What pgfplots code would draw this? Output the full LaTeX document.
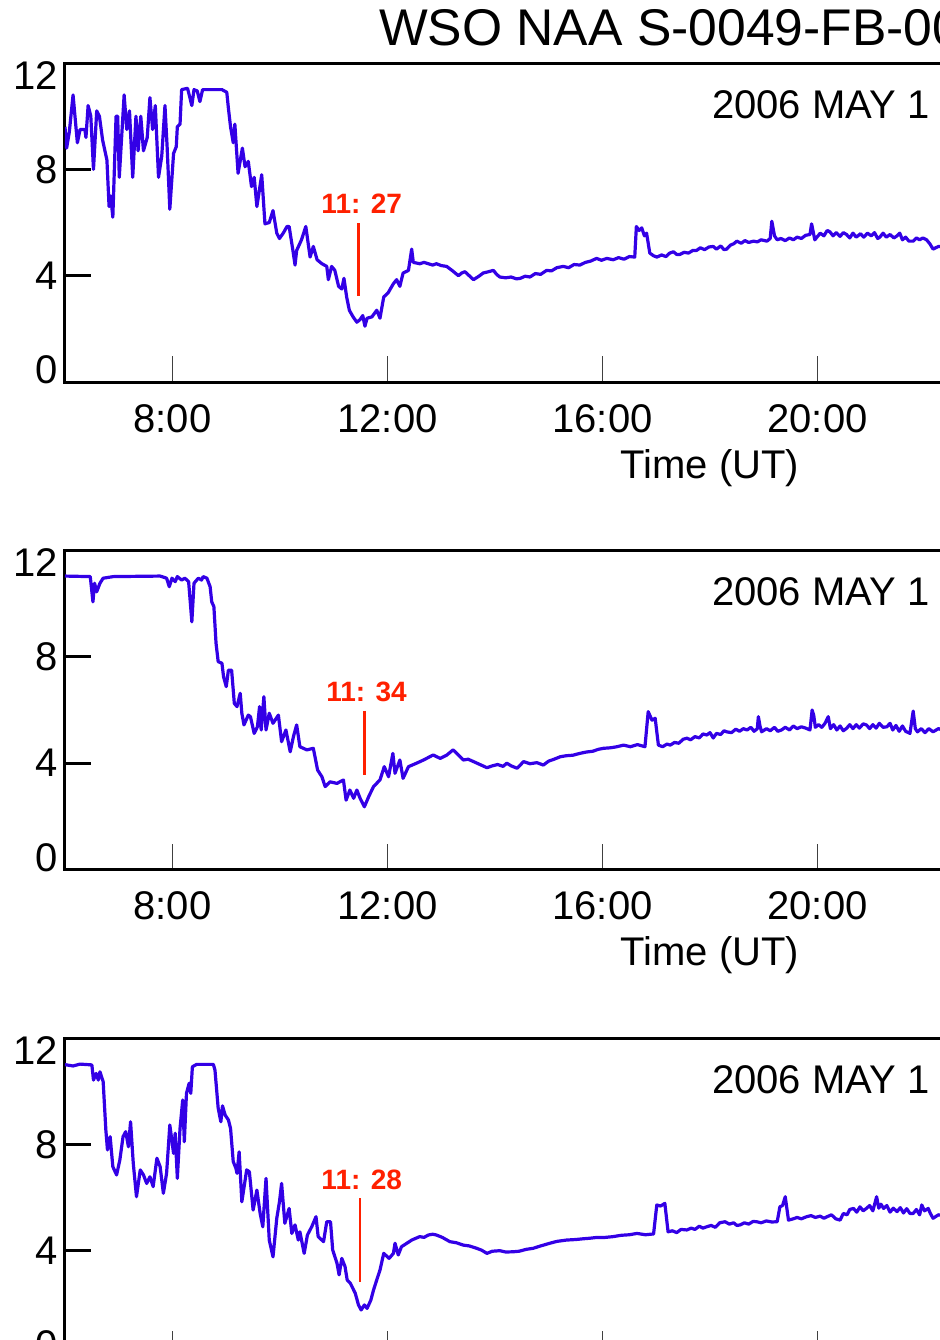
\documentclass[border=0pt]{standalone}
\usepackage{fontspec}
\setmainfont{Liberation Sans}
\usepackage{pgfplots}
\usepackage{pgfplotstable}
\pgfplotsset{compat=1.18}

\definecolor{traceblue}{RGB}{51,0,230}
\definecolor{flagred}{RGB}{255,32,0}

% hour (UT) / signal
\pgfplotstableread{
t v
6.00 9.6
6.03 8.8
6.08 9.4
6.15 10.8
6.23 9.0
6.28 9.5
6.37 9.5
6.39 9.2
6.43 10.4
6.48 10.0
6.53 8.0
6.59 10.2
6.64 10.0
6.70 9.1
6.78 8.35
6.82 6.6
6.85 7.0
6.89 6.2
6.95 10.0
6.98 10.0
7.01 7.7
7.10 10.8
7.15 9.5
7.20 10.2
7.26 7.7
7.32 10.0
7.36 8.7
7.41 10.0
7.46 8.7
7.53 9.2
7.58 10.7
7.63 9.5
7.68 10.4
7.74 7.7
7.80 8.5
7.86 10.4
7.90 8.85
7.95 6.5
8.02 8.6
8.07 8.85
8.09 9.6
8.14 9.7
8.17 11.0
8.28 11.05
8.36 10.4
8.40 11.0
8.46 10.95
8.51 10.55
8.56 11.0
8.92 11.0
9.01 10.9
9.04 10.3
9.08 9.6
9.13 9.0
9.16 9.7
9.22 7.85
9.30 8.8
9.35 8.1
9.41 8.3
9.47 7.35
9.52 7.7
9.57 6.6
9.66 7.8
9.72 5.95
9.80 6.0
9.87 6.45
9.94 5.6
9.99 5.4
10.06 5.6
10.13 5.85
10.17 5.85
10.24 4.95
10.28 4.4
10.31 4.95
10.40 5.35
10.48 5.85
10.56 4.7
10.62 5.1
10.69 4.6
10.78 4.45
10.87 4.35
10.90 3.85
10.96 4.35
11.02 4.2
11.09 3.6
11.15 3.5
11.19 3.9
11.24 3.2
11.29 2.7
11.36 2.45
11.43 2.25
11.49 2.35
11.54 2.5
11.58 2.1
11.62 2.4
11.71 2.45
11.80 2.7
11.86 2.4
11.93 3.2
12.01 3.35
12.11 3.7
12.17 3.85
12.23 3.6
12.29 4.1
12.39 4.2
12.45 5.0
12.48 4.5
12.60 4.45
12.68 4.5
12.76 4.45
12.84 4.4
12.91 4.45
13.00 4.38
13.10 4.35
13.20 4.2
13.32 4.0
13.38 4.1
13.44 4.15
13.52 4.0
13.60 3.85
13.70 3.98
13.78 4.1
13.88 4.15
13.97 4.2
14.03 4.05
14.09 3.95
14.20 3.92
14.30 3.95
14.40 3.88
14.47 3.9
14.56 3.98
14.65 3.95
14.75 4.08
14.85 4.05
14.96 4.2
15.05 4.18
15.15 4.3
15.27 4.35
15.37 4.3
15.47 4.42
15.58 4.4
15.68 4.5
15.78 4.55
15.89 4.65
15.98 4.58
16.08 4.65
16.20 4.6
16.30 4.68
16.40 4.62
16.50 4.72
16.60 4.7
16.63 5.85
16.68 5.7
16.73 5.8
16.78 5.5
16.82 5.6
16.88 4.85
16.95 4.75
17.01 4.7
17.10 4.78
17.18 4.72
17.25 4.85
17.32 4.9
17.38 4.8
17.44 4.8
17.52 4.88
17.60 4.85
17.68 4.95
17.75 4.95
17.82 5.05
17.90 4.98
17.98 5.08
18.06 5.1
18.12 5.0
18.20 5.12
18.26 4.98
18.31 5.0
18.38 5.15
18.44 5.2
18.50 5.3
18.58 5.22
18.65 5.32
18.72 5.25
18.81 5.3
18.88 5.27
18.95 5.35
19.06 5.3
19.12 5.4
19.15 6.05
19.20 5.5
19.25 5.35
19.32 5.4
19.40 5.32
19.48 5.42
19.55 5.35
19.62 5.45
19.70 5.4
19.78 5.52
19.86 5.55
19.89 5.95
19.95 5.35
20.05 5.6
20.12 5.5
20.18 5.7
20.23 5.65
20.29 5.5
20.35 5.62
20.42 5.48
20.48 5.62
20.54 5.55
20.60 5.42
20.66 5.6
20.72 5.45
20.80 5.58
20.86 5.45
20.93 5.6
21.00 5.5
21.06 5.62
21.12 5.4
21.16 5.45
21.22 5.6
21.28 5.45
21.35 5.55
21.42 5.42
21.48 5.5
21.53 5.6
21.58 5.35
21.64 5.45
21.70 5.3
21.78 5.3
21.84 5.42
21.90 5.35
21.96 5.42
22.03 5.35
22.09 5.2
22.15 5.0
22.25 5.1
22.40 5.1
}\dayA

\pgfplotstableread{
t v
6.00 11.04
6.47 11.02
6.52 10.07
6.55 10.77
6.59 10.45
6.65 10.77
6.71 10.96
6.90 11.02
7.77 11.04
7.89 10.96
7.94 10.64
7.99 10.96
8.05 10.83
8.09 11.02
8.17 10.89
8.23 10.96
8.30 10.83
8.36 9.32
8.40 10.77
8.48 10.96
8.54 10.89
8.57 11.02
8.64 10.96
8.70 10.64
8.73 10.07
8.77 9.89
8.81 8.51
8.85 7.82
8.92 7.76
8.95 7.25
9.00 6.88
9.04 7.5
9.10 7.5
9.15 6.25
9.20 6.13
9.26 6.63
9.29 5.88
9.33 5.44
9.41 5.81
9.45 5.75
9.52 5.12
9.58 5.37
9.62 6.13
9.65 5.25
9.70 6.5
9.74 5.25
9.80 5.88
9.87 5.5
9.97 5.81
10.03 4.81
10.11 5.25
10.19 4.43
10.25 5.0
10.31 5.44
10.37 4.62
10.50 4.5
10.62 4.56
10.70 3.74
10.78 3.49
10.84 3.12
10.93 3.3
11.06 3.24
11.18 3.37
11.23 2.61
11.30 2.99
11.37 2.68
11.43 2.99
11.49 2.68
11.57 2.36
11.65 2.74
11.74 3.12
11.86 3.37
11.94 3.87
12.02 3.49
12.10 4.37
12.14 3.62
12.23 4.12
12.29 3.43
12.39 3.87
12.54 4.0
12.67 4.12
12.85 4.31
12.98 4.18
13.10 4.3
13.22 4.5
13.30 4.35
13.41 4.12
13.50 4.15
13.60 4.06
13.72 3.95
13.85 3.83
13.95 3.9
14.05 3.95
14.15 3.88
14.22 4.0
14.30 3.9
14.41 3.81
14.48 3.95
14.53 4.06
14.65 3.98
14.78 4.02
14.90 3.93
15.00 4.08
15.10 4.15
15.21 4.24
15.32 4.28
15.45 4.3
15.58 4.37
15.70 4.42
15.82 4.45
15.92 4.52
16.02 4.56
16.15 4.58
16.27 4.62
16.39 4.68
16.52 4.62
16.65 4.7
16.79 4.62
16.85 5.94
16.92 5.62
16.98 5.69
17.04 4.68
17.12 4.62
17.20 4.72
17.26 4.68
17.34 4.78
17.42 4.75
17.50 4.9
17.57 4.94
17.64 4.88
17.72 5.0
17.80 4.95
17.87 5.1
17.94 5.06
18.00 5.15
18.06 4.95
18.12 5.12
18.20 5.08
18.26 5.22
18.31 5.18
18.40 5.15
18.48 5.28
18.55 5.2
18.62 5.3
18.69 5.25
18.76 5.35
18.82 5.2
18.88 5.3
18.90 5.75
18.93 5.4
18.96 5.18
19.05 5.3
19.12 5.22
19.20 5.35
19.26 5.2
19.33 5.25
19.40 5.35
19.48 5.25
19.55 5.4
19.62 5.3
19.70 5.37
19.78 5.32
19.86 5.25
19.90 6.0
19.93 5.8
19.96 5.35
20.02 5.45
20.08 5.35
20.14 5.5
20.20 5.75
20.24 5.3
20.30 5.45
20.36 5.25
20.42 5.4
20.48 5.22
20.54 5.31
20.60 5.45
20.66 5.3
20.72 5.45
20.78 5.32
20.85 5.48
20.91 5.44
20.97 5.3
21.03 5.45
21.09 5.32
21.15 5.5
21.22 5.35
21.29 5.37
21.35 5.5
21.40 5.25
21.46 5.42
21.52 5.2
21.58 5.4
21.64 5.2
21.72 5.12
21.78 5.96
21.82 5.3
21.86 5.18
21.93 5.3
22.00 5.15
22.07 5.3
22.15 5.18
22.25 5.3
22.40 5.2
}\dayB

\pgfplotstableread{
t v
6.00 11.0
6.15 10.95
6.28 11.02
6.50 10.99
6.53 10.42
6.58 10.67
6.62 10.42
6.65 10.73
6.71 10.36
6.76 8.54
6.79 7.79
6.84 8.29
6.89 7.16
6.96 6.85
7.02 7.41
7.08 8.29
7.13 8.48
7.18 7.91
7.22 8.85
7.27 7.29
7.33 6.03
7.40 7.04
7.46 6.85
7.52 6.53
7.58 6.78
7.64 6.41
7.71 7.48
7.77 7.16
7.83 6.16
7.89 6.91
7.95 8.73
8.02 7.66
8.05 8.42
8.09 6.72
8.14 8.6
8.19 9.67
8.22 8.1
8.26 9.92
8.31 10.3
8.34 9.92
8.37 10.92
8.45 11.01
8.76 11.01
8.79 10.8
8.85 9.36
8.90 8.85
8.93 9.45
8.98 9.1
9.04 8.92
9.08 8.6
9.13 7.35
9.18 7.1
9.20 6.91
9.24 7.72
9.29 5.84
9.38 7.04
9.43 6.97
9.50 5.53
9.57 6.28
9.63 5.41
9.68 4.9
9.74 6.72
9.80 4.4
9.87 3.77
9.94 5.22
9.99 5.84
10.03 6.53
10.09 5.03
10.17 5.59
10.22 4.65
10.28 4.97
10.34 4.4
10.37 4.71
10.45 3.9
10.51 4.59
10.59 4.9
10.67 5.28
10.71 4.53
10.81 4.34
10.87 5.09
10.94 5.09
10.98 4.03
11.06 3.53
11.10 3.09
11.15 3.71
11.21 3.4
11.25 2.9
11.31 2.77
11.40 2.4
11.46 1.96
11.51 1.77
11.57 1.96
11.62 1.83
11.69 2.14
11.74 2.52
11.80 2.9
11.86 3.27
11.93 3.9
12.03 3.71
12.11 3.9
12.14 4.28
12.20 3.84
12.26 4.15
12.36 4.28
12.45 4.4
12.60 4.53
12.68 4.5
12.76 4.59
12.84 4.62
12.91 4.59
13.02 4.5
13.16 4.34
13.28 4.3
13.41 4.21
13.52 4.18
13.66 4.09
13.75 4.02
13.85 3.9
13.95 3.98
14.09 4.0
14.20 3.95
14.34 3.96
14.45 3.98
14.58 4.05
14.71 4.09
14.85 4.18
15.02 4.28
15.15 4.35
15.33 4.4
15.50 4.42
15.65 4.45
15.77 4.47
15.90 4.5
16.05 4.5
16.20 4.53
16.35 4.58
16.50 4.6
16.64 4.65
16.80 4.6
16.95 4.63
17.01 5.72
17.08 5.68
17.16 5.78
17.22 4.71
17.30 4.75
17.38 4.68
17.46 4.8
17.57 4.78
17.65 4.85
17.72 4.8
17.80 4.92
17.87 4.85
17.94 4.9
18.02 4.95
18.10 4.88
18.18 5.05
18.28 5.09
18.36 5.0
18.44 5.05
18.50 4.95
18.56 4.97
18.64 5.05
18.72 5.0
18.80 5.1
18.87 5.09
18.95 5.05
19.05 5.12
19.15 5.08
19.25 5.09
19.30 5.65
19.35 5.7
19.40 6.03
19.46 5.15
19.55 5.2
19.62 5.25
19.70 5.2
19.80 5.28
19.88 5.32
19.96 5.25
20.05 5.3
20.12 5.22
20.18 5.28
20.26 5.35
20.34 5.2
20.42 5.15
20.48 5.4
20.55 5.35
20.60 5.55
20.67 5.59
20.73 5.45
20.79 5.65
20.85 5.5
20.91 5.59
20.97 5.7
21.03 5.5
21.10 6.03
21.14 5.6
21.18 5.75
21.23 5.59
21.29 5.7
21.35 5.45
21.41 5.6
21.48 5.47
21.54 5.62
21.60 5.42
21.66 5.58
21.72 5.4
21.78 5.4
21.84 5.55
21.90 5.35
21.94 5.72
21.99 5.5
22.06 5.59
22.10 5.4
22.15 5.22
22.25 5.35
22.40 5.3
}\dayC

\pgfplotsset{
  panel/.style={
    x=26.875pt, y=13.29pt,
    xmin=6, xmax=30, ymin=0, ymax=12,
    anchor=south west,
    axis line style={line width=1.5pt},
    tick align=inside,
    major tick length=13pt,
    xtick pos=bottom, ytick pos=left,
    xtick={8,12,16,20,24,28},
    xticklabels={8:00,12:00,16:00,20:00,24:00,28:00},
    ytick={0,4,8,12},
    yticklabels={{\raisebox{6pt}[\height][\depth]{0}},4,8,{\raisebox{-6pt}[\height][\depth]{12}}},
    xtick style={line width=0.6pt, draw=black!75},
    ytick style={line width=1.5pt, draw=black},
    /pgf/number format/assume math mode=true,
    tick label style={font=\fontsize{20}{24}\selectfont},
    x tick label style={yshift=-7.5pt},
    y tick label style={xshift=0pt},
    label style={font=\fontsize{20}{24}\selectfont},
    xlabel={Time (UT)},
    xlabel style={yshift=-1.5pt},
  },
  sig/.style={traceblue, line width=1.6pt, line join=round},
  flagline/.style={flagred, line width=1.2pt},
}
\tikzset{
  flagtext/.style={anchor=base, text=flagred, font=\bfseries\fontsize{14}{16}\selectfont},
  datetext/.style={anchor=base west, font=\fontsize{20}{24}\selectfont},
}

\begin{document}
\begin{tikzpicture}
\useasboundingbox (0,0) rectangle (470pt,-670pt);
\clip (0,0) rectangle (470pt,-670pt);

\node[anchor=base west, font=\fontsize{25.8}{30}\selectfont] at (186pt,-22.5pt) {WSO NAA S-0049-FB-00};

\begin{axis}[panel, at={(32.5pt,-191pt)}]
\addplot[sig] table[x=t, y=v] {\dayA};
\addplot[flagline] coordinates {(11.46,5.97) (11.46,3.24)};
\node[flagtext] at (axis cs:11.52,6.35) {11: 27};
\node[datetext] at (axis cs:17.91,9.93) {2006 MAY 1};
\end{axis}

\begin{axis}[panel, at={(32.5pt,-434.75pt)}]
\addplot[sig] table[x=t, y=v] {\dayB};
\addplot[flagline] coordinates {(11.57,5.97) (11.57,3.56)};
\node[flagtext] at (axis cs:11.61,6.31) {11: 34};
\node[datetext] at (axis cs:17.91,9.93) {2006 MAY 1};
\end{axis}

\begin{axis}[panel, at={(32.5pt,-678.5pt)}]
\addplot[sig] table[x=t, y=v] {\dayC};
\addplot[flagline] coordinates {(11.49,5.97) (11.49,2.83)};
\node[flagtext] at (axis cs:11.52,6.31) {11: 28};
\node[datetext] at (axis cs:17.91,9.93) {2006 MAY 1};
\end{axis}
\end{tikzpicture}
\end{document}
